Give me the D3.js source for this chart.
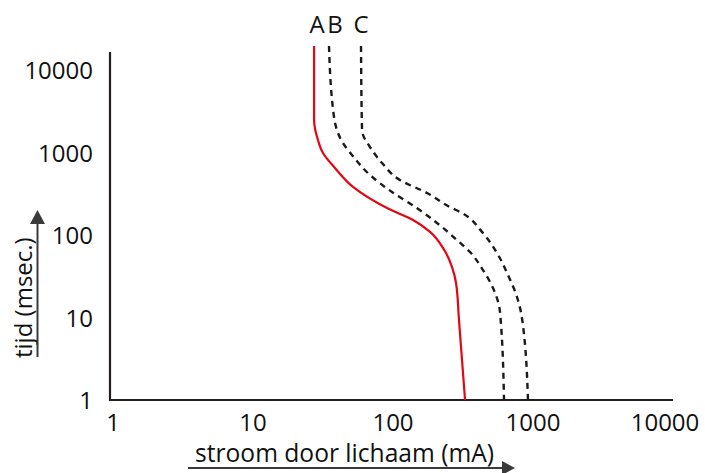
<!DOCTYPE html>
<html lang="nl">
<head>
  <meta charset="utf-8">
  <script src="https://d3js.org/d3.v7.min.js"></script>
  <style>
    body { margin: 0; background: #fff; }
    text { font-family: "Open Sans", "Noto Sans", sans-serif; fill: #111; }
  </style>
</head>
<body>
<script>
  // tick values (log axes)
  const xTicks = [1, 10, 100, 1000, 10000];
  const yTicks = [1, 10, 100, 1000, 10000];

  // curve A (red) - stroom (mA) / tijd (msec)
  const curveA_x = [27.3, 27.3, 29.1, 31.6, 38.5, 51.8, 90.6, 139, 184, 228, 264, 282, 296, 327];
  const curveA_y = [19500, 2477, 1418, 986, 649, 382, 212, 152, 109, 69.5, 40.9, 26.2, 9.33, 1];

  // curve B (dashed)
  const curveB_x = [34.9, 37.9, 43.9, 50.9, 68.5, 98.4, 148, 206, 286, 355, 439, 518, 581, 621];
  const curveB_y = [19500, 2692, 1304, 933, 534, 332, 212, 140, 87, 62.2, 37.6, 22.8, 11.7, 1];

  // curve C (dashed)
  const curveC_x = [59.1, 60.1, 70.8, 83.5, 112, 175, 255, 311, 432, 553, 663, 769, 834, 921];
  const curveC_y = [19500, 1874, 1072, 746, 464, 323, 218, 185, 109, 60.5, 32.7, 17.7, 9.86, 1];

  const curveLabels = ["A", "B", "C"];

  const w = 705, h = 473;
  const x = d3.scaleLog().domain([1, 10000]).range([113, 673]);
  const y = d3.scaleLog().domain([1, 10000]).range([400, 70]);

  const svg = d3.select("body").append("svg")
    .attr("width", w)
    .attr("height", h);

  // axes lines
  svg.append("line")
    .attr("x1", 110).attr("x2", 110)
    .attr("y1", 52).attr("y2", 401)
    .attr("stroke", "#231f20").attr("stroke-width", 2.2);
  svg.append("line")
    .attr("x1", 109).attr("x2", x(10000))
    .attr("y1", 400).attr("y2", 400)
    .attr("stroke", "#231f20").attr("stroke-width", 2.2);

  // tick labels
  svg.selectAll(".xt")
    .data(xTicks)
    .enter()
    .append("text")
    .attr("class", "xt")
    .attr("x", (d, i) => x(d) - (i == xTicks.length - 1 ? 8 : 0))
    .attr("y", 431)
    .attr("text-anchor", "middle")
    .attr("font-size", "24px")
    .text(d => d);

  svg.selectAll(".yt")
    .data(yTicks)
    .enter()
    .append("text")
    .attr("class", "yt")
    .attr("x", 93)
    .attr("y", d => y(d) + 9)
    .attr("text-anchor", "end")
    .attr("font-size", "24px")
    .text(d => d);

  // curves
  const line = d3.line()
    .x(d => x(d[0]))
    .y(d => y(d[1]))
    .curve(d3.curveMonotoneY);

  const curves = [
    { pts: d3.zip(curveA_x, curveA_y), color: "#e30613", dash: null },
    { pts: d3.zip(curveB_x, curveB_y), color: "#1a1a1a", dash: "6,5" },
    { pts: d3.zip(curveC_x, curveC_y), color: "#1a1a1a", dash: "6,5" }
  ];

  svg.selectAll(".curve")
    .data(curves)
    .enter()
    .append("path")
    .attr("class", "curve")
    .attr("d", d => line(d.pts))
    .attr("fill", "none")
    .attr("stroke", d => d.color)
    .attr("stroke-width", d => d.dash ? 2.4 : 2.2)
    .attr("stroke-dasharray", d => d.dash);

  // curve labels
  const labelX = [curveA_x[0], curveB_x[0], curveC_x[0]];
  svg.selectAll(".cl")
    .data(curveLabels)
    .enter()
    .append("text")
    .attr("class", "cl")
    .attr("x", (d, i) => x(labelX[i]) + [3, 6, 0][i])
    .attr("y", 33)
    .attr("text-anchor", "middle")
    .attr("font-size", "24px")
    .text(d => d);

  // x title with arrow
  svg.append("text")
    .attr("x", 195)
    .attr("y", 462)
    .attr("font-size", "24.6px")
    .text("stroom door lichaam (mA)");
  svg.append("line")
    .attr("x1", 188).attr("x2", 503)
    .attr("y1", 468).attr("y2", 468)
    .attr("stroke", "#3a3a3a").attr("stroke-width", 2);
  svg.append("path")
    .attr("d", "M502,461 L515,468 L502,475 Z")
    .attr("fill", "#3a3a3a");

  // y title with arrow
  svg.append("text")
    .attr("transform", "translate(32,358) rotate(-90)")
    .attr("font-size", "24px")
    .text("tijd (msec.)");
  svg.append("line")
    .attr("x1", 37.5).attr("x2", 37.5)
    .attr("y1", 357).attr("y2", 222)
    .attr("stroke", "#3a3a3a").attr("stroke-width", 2);
  svg.append("path")
    .attr("d", "M30,224 L37.5,210 L45,224 Z")
    .attr("fill", "#3a3a3a");
</script>
</body>
</html>
